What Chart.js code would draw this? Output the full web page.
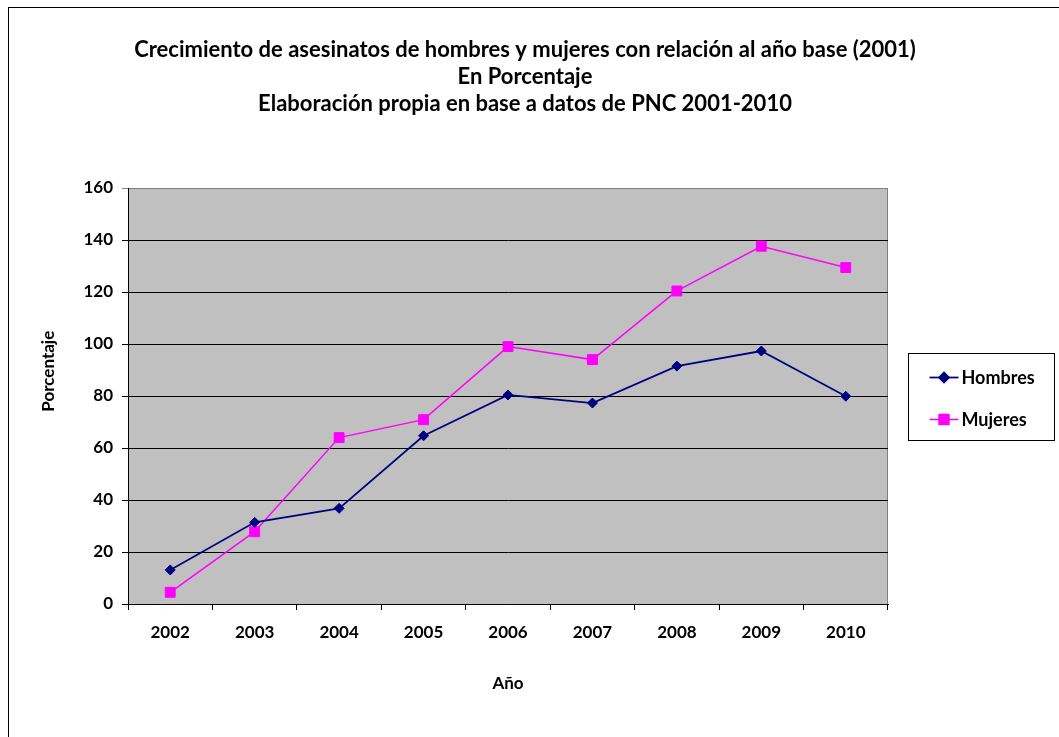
<!DOCTYPE html>
<html>
<head>
<meta charset="utf-8">
<script src="https://cdn.jsdelivr.net/npm/chart.js@4"></script>
<style>
  html, body { margin: 0; padding: 0; background: #fff; overflow: hidden; }
  #wrap { position: relative; width: 1059px; height: 737px; }
  #frame { position: absolute; left: 8px; top: 7px; width: 1100px; height: 800px; border: 1px solid #000; pointer-events: none; }
</style>
</head>
<body>
<div id="wrap">
  <canvas id="c" width="1059" height="737"></canvas>
  <div id="frame"></div>
</div>
<script>
const years = ['2002', '2003', '2004', '2005', '2006', '2007', '2008', '2009', '2010'];
const hombres = [13.1, 31.4, 36.8, 64.7, 80.4, 77.3, 91.5, 97.3, 79.9];
const mujeres = [4.5, 27.8, 64.0, 70.9, 99.0, 94.0, 120.4, 137.6, 129.4];
const titleLines = [
  'Crecimiento de asesinatos de hombres y mujeres con relación al año base (2001)',
  'En Porcentaje',
  'Elaboración propia en base a datos de PNC 2001-2010'
];

const FONT = 'Lato, Carlito, "Open Sans", sans-serif';

// grey plot background + grey top/right plot border, like the Excel original
const plotBg = {
  id: 'plotBg',
  beforeDraw(chart) {
    const { ctx, chartArea: a } = chart;
    ctx.save();
    ctx.fillStyle = '#C0C0C0';
    ctx.fillRect(a.left, a.top, a.right - a.left, a.bottom - a.top);
    ctx.strokeStyle = '#808080';
    ctx.lineWidth = 1;
    ctx.beginPath();
    ctx.moveTo(a.left, a.top + 0.5);
    ctx.lineTo(a.right - 0.5, a.top + 0.5);
    ctx.lineTo(a.right - 0.5, a.bottom);
    ctx.stroke();
    ctx.restore();
  }
};

// boxed legend on the right with line + marker swatches
const boxLegend = {
  id: 'boxLegend',
  afterDraw(chart) {
    const { ctx, chartArea: a } = chart;
    const w = 146, h = 87;
    const x = a.right + 20.5;
    const y = Math.round((a.top + a.bottom) / 2 - h / 2) + 0.5;
    ctx.save();
    ctx.fillStyle = '#fff';
    ctx.fillRect(x, y, w, h);
    ctx.strokeStyle = '#000';
    ctx.lineWidth = 1;
    ctx.strokeRect(x, y, w, h);
    chart.data.datasets.forEach((ds, i) => {
      const cy = y + 24 + i * 42;
      ctx.strokeStyle = ds.borderColor;
      ctx.lineWidth = ds.borderWidth;
      ctx.beginPath();
      ctx.moveTo(x + 21, cy);
      ctx.lineTo(x + 50, cy);
      ctx.stroke();
      Chart.helpers.drawPoint(ctx, {
        pointStyle: ds.pointStyle, radius: ds.pointRadius, borderWidth: 1
      }, x + 35.5, cy);
      ctx.fillStyle = ds.pointBackgroundColor;
      ctx.fill();
      ctx.fillStyle = '#000';
      ctx.font = 'bold 18px ' + FONT;
      ctx.textBaseline = 'middle';
      ctx.fillText(ds.label, x + 53, cy + 1);
    });
    ctx.restore();
  }
};

new Chart(document.getElementById('c'), {
  type: 'line',
  data: {
    labels: years,
    datasets: [
      {
        label: 'Hombres', data: hombres,
        borderColor: '#000080', backgroundColor: '#000080',
        pointBackgroundColor: '#000080', pointBorderColor: '#000080',
        borderWidth: 1.75, pointStyle: 'rectRot', pointRadius: 5, pointBorderWidth: 1, tension: 0
      },
      {
        label: 'Mujeres', data: mujeres,
        borderColor: '#FF00FF', backgroundColor: '#FF00FF',
        pointBackgroundColor: '#FF00FF', pointBorderColor: '#FF00FF',
        borderWidth: 1.5, pointStyle: 'rect', pointRadius: 7, pointBorderWidth: 1, tension: 0
      }
    ]
  },
  options: {
    responsive: false, animation: false,
    layout: { padding: { left: 8, right: 17, top: 8, bottom: 0 } },
    plugins: {
      legend: { display: false },
      tooltip: { enabled: false },
      title: {
        display: true, text: titleLines, color: '#000',
        font: { family: FONT, size: 22, weight: 'bold', lineHeight: 27 / 22 },
        padding: { top: 28, bottom: 71 }
      }
    },
    scales: {
      x: {
        offset: true,
        afterFit: s => { s.height = 133; },
        grid: { offset: true, drawOnChartArea: false, drawTicks: true, tickLength: 6, color: '#000' },
        border: { display: true, color: '#000', width: 1 },
        ticks: { color: '#000', padding: 12, maxRotation: 0, font: { family: FONT, size: 17, weight: 'bold' } },
        title: { display: true, text: 'Año', color: '#000', padding: { top: 0, bottom: 43 },
                 font: { family: FONT, size: 17, weight: 'bold' } }
      },
      y: {
        min: 0, max: 160,
        afterFit: s => { s.width = 120; },
        grid: {
          drawTicks: true, tickLength: 6,
          color: c => (c.tick && c.tick.value === 160) ? '#808080' : '#000'
        },
        border: { display: true, color: '#000', width: 1 },
        ticks: { stepSize: 20, color: '#000', padding: 9, font: { family: FONT, size: 17, weight: 'bold' } },
        title: { display: true, text: '            Porcentaje', color: '#000', padding: { top: 30, bottom: 0 },
                 font: { family: FONT, size: 17, weight: 'bold' } }
      },
      // empty right-hand scale that reserves the legend column
      legendSpace: {
        type: 'linear', position: 'right', display: true,
        afterFit: s => { s.width = 154; },
        grid: { drawOnChartArea: false, drawTicks: false },
        border: { display: false },
        ticks: { display: false }
      }
    }
  },
  plugins: [plotBg, boxLegend]
});
</script>
</body>
</html>
